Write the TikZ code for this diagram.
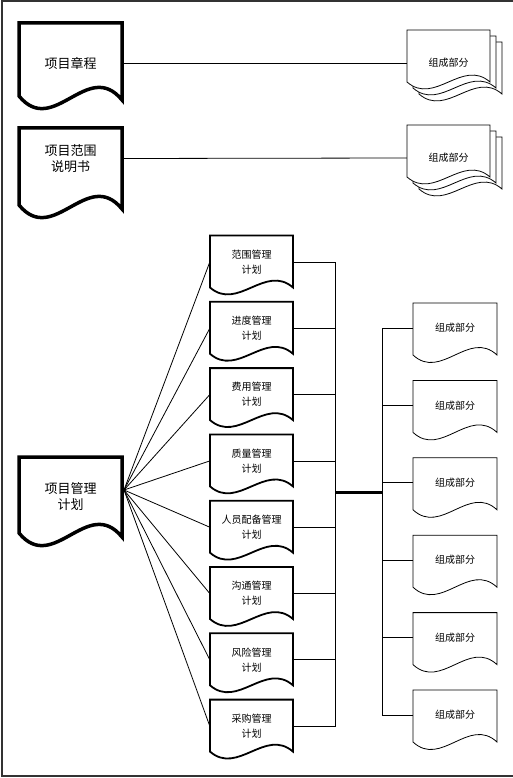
\documentclass[tikz,border=0pt]{standalone}
\usepackage{fontspec}
\newfontfamily\cjk{Noto Sans CJK SC}
\usetikzlibrary{calc}
\pgfdeclarelayer{bg}
\pgfsetlayers{bg,main}
% #1 node/coordinate name, #2 style, #3 half width, #4 top above centre,
% #5 left-bottom below centre, #6 extra drop of right-bottom, #7 wave amplitude
\newcommand\docout[7]{%
  \draw[#2] ($(#1.center)+(-#3,#5)$) -- ($(#1.center)+(-#3,-#4)$)
    -- ($(#1.center)+(#3,-#4)$) -- ($(#1.center)+(#3,#5+#6)$)
    .. controls +({-2*#3/3},{-#7}) and +({2*#3/3},{#7}) .. ($(#1.center)+(-#3,#5)$) -- cycle;}
\tikzset{
  bigdoc/.style={line width=3.5pt, line join=miter, fill=white},
  plandoc/.style={line width=1.8pt, fill=white},
  thindoc/.style={line width=0.8pt, fill=white},
  lbl/.style={inner sep=0pt, align=center, font=\cjk\fontsize{10}{15}\selectfont},
  biglbl/.style={inner sep=0pt, align=center, font=\cjk\fontsize{13}{16}\selectfont},
  conn/.style={line width=0.8pt},
  bus/.style={line width=3pt},
}
\begin{document}
\begin{tikzpicture}[x=1pt,y=-1pt]
\useasboundingbox (0,0) rectangle (512,778);
\draw[line width=1.5pt, black!80] (516,1) -- (2,1) -- (2,776) -- (516,776);

% left main documents
\node[biglbl, minimum width=103] (A) at (70.5,63) {项目章程};
\node[biglbl, minimum width=103] (B) at (70.5,158.5) {项目范围\\说明书};
\node[biglbl, minimum width=103] (C) at (70.5,497) {项目管理\\计划};

% multi-documents on top right
\node[lbl, minimum width=83] (M1) at (448.5,63) {组成部分};
\node[lbl, minimum width=83] (M2) at (448.5,158) {组成部分};
\coordinate (M1a) at ($(M1.center)+(12,12)$);
\coordinate (M1b) at ($(M1.center)+(6,6)$);
\coordinate (M2a) at ($(M2.center)+(12,12)$);
\coordinate (M2b) at ($(M2.center)+(6,6)$);

% plan documents
\foreach \t [count=\i] in {范围管理,进度管理,费用管理,质量管理,人员配备管理,沟通管理,风险管理,采购管理}{
  \node[lbl, minimum width=83] (P\i) at (251.5,{262+66.3*(\i-1)}) {\t\\计划};
}
% component documents
\foreach \i in {1,...,6}{
  \node[lbl, minimum width=84] (R\i) at (455,{328+77.4*(\i-1)}) {组成部分};
}

\begin{pgfonlayer}{bg}
  \docout{A}{bigdoc}{51.5}{40}{33}{4}{42}
  \docout{B}{bigdoc}{51.5}{30.5}{46.5}{4}{42}
  \docout{C}{bigdoc}{51.5}{40}{36}{4}{42}
  \docout{M1a}{thindoc}{41.5}{33}{19}{0}{24}
  \docout{M1b}{thindoc}{41.5}{33}{19}{0}{24}
  \docout{M1}{thindoc}{41.5}{33}{19}{0}{24}
  \docout{M2a}{thindoc}{41.5}{33}{19}{0}{24}
  \docout{M2b}{thindoc}{41.5}{33}{19}{0}{24}
  \docout{M2}{thindoc}{41.5}{33}{19}{0}{24}
  \foreach \i in {1,...,8}{\docout{P\i}{plandoc}{41.5}{26.5}{25.5}{0}{24}}
  \foreach \i in {1,...,6}{\docout{R\i}{thindoc}{42}{25}{27}{0}{26}}
\end{pgfonlayer}

% connectors
\draw[conn] (A.east) -- (M1.west);
\draw[conn] (B.east) -- (M2.west);
\coordinate (hub) at (124,490);
\coordinate (jl) at (335,492);
\coordinate (jr) at (382,492);
\foreach \i in {1,...,8}{
  \draw[conn] (hub) -- (P\i.west);
  \draw[conn] (P\i.east) -| (jl);
}
\foreach \i in {1,...,6}{
  \draw[conn] (jr) |- (R\i.west);
}
\draw[bus] (jl) -- (jr);
\end{tikzpicture}
\end{document}
